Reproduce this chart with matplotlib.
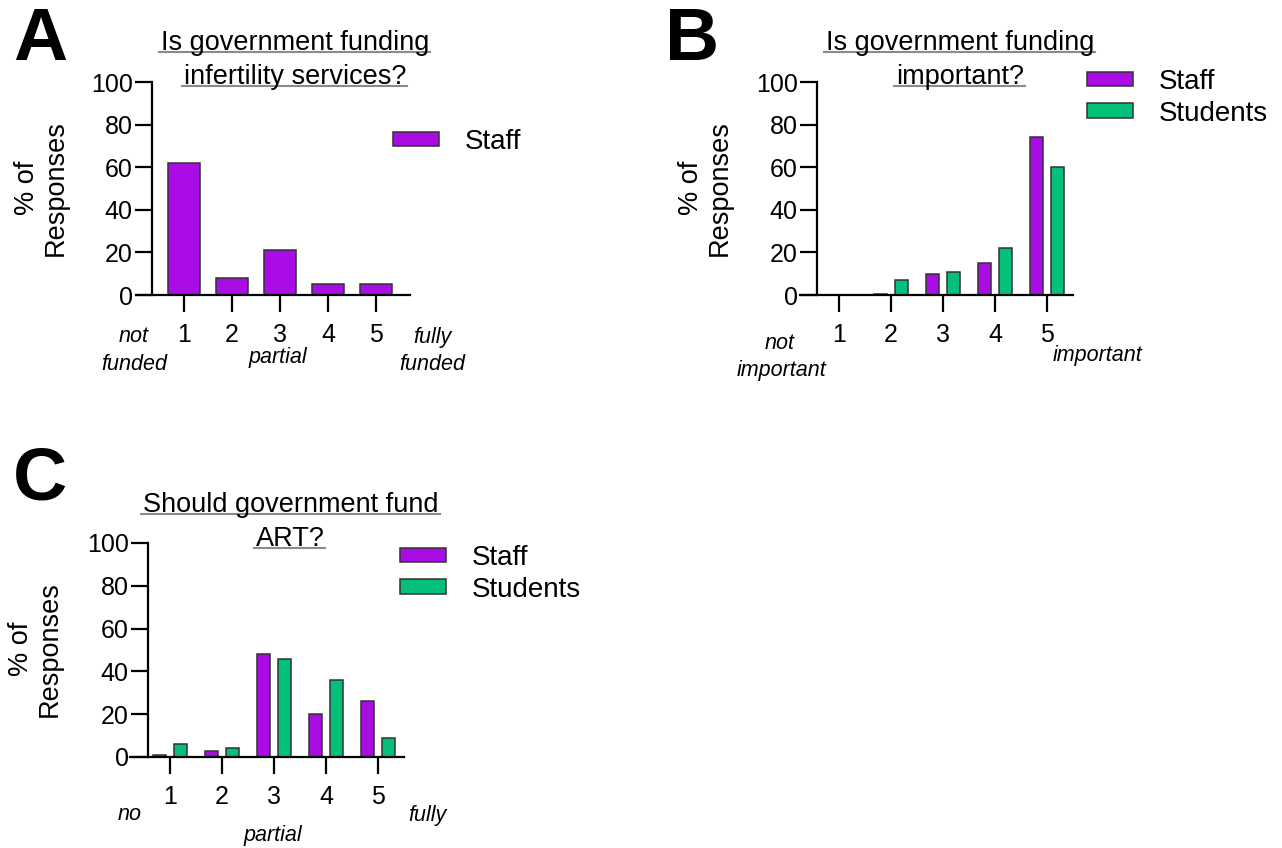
import numpy as np
import matplotlib
matplotlib.use("Agg")
from matplotlib import pyplot as plt
from matplotlib.lines import Line2D

plt.rcParams['font.family'] = ['Liberation Sans', 'DejaVu Sans']

# ---- data ----
categories = [1, 2, 3, 4, 5]
a_staff = [62, 8, 21, 5, 5]
b_staff = [0, 0.7, 10, 15, 74]
b_students = [0, 7, 11, 22, 60]
c_staff = [0.8, 3, 48, 20, 26]
c_students = [6, 4, 46, 36, 9]

PURPLE = '#a90ce4'
GREEN = '#03c07a'
EDGE = '#333333'

W, H = 1282, 848
fig = plt.figure(figsize=(W / 100, H / 100), dpi=100)


def fx(x):
    return x / W


def fy(y):
    return 1 - y / H


def make_axes(x0, x1, ytop, ybot, xlim, spine_x):
    ax = fig.add_axes([fx(x0), fy(ybot), (x1 - x0) / W, (ybot - ytop) / H])
    ax.set_xlim(*xlim)
    ax.set_ylim(0, 100)
    ax.spines['top'].set_visible(False)
    ax.spines['right'].set_visible(False)
    ax.spines['left'].set_position(('data', spine_x))
    for s in ('left', 'bottom'):
        ax.spines[s].set_linewidth(1.6)
    ax.set_yticks([0, 20, 40, 60, 80, 100])
    ax.set_xticks(categories)
    ax.tick_params(axis='y', length=12, width=1.6, pad=2, labelsize=18)
    ax.tick_params(axis='x', length=12, width=1.6, pad=8, labelsize=18)
    ax.patch.set_visible(False)
    return ax


def legend(ax, x, y):
    ax.legend(loc='upper left', bbox_to_anchor=(fx(x), fy(y)),
              bbox_transform=fig.transFigure, frameon=False, fontsize=20,
              handlelength=1.65, handleheight=0.42, handletextpad=0.95,
              borderpad=0, borderaxespad=0, labelspacing=0.2)


def ylabel(x, y):
    fig.text(fx(x), fy(y), '% of\nResponses', rotation=90, ha='center',
             va='center', fontsize=19.5, linespacing=1.15)


def italic(x, y, s):
    fig.text(fx(x), fy(y), s, ha='center', va='center', fontsize=15.5,
             style='italic')


titles = []


def title(x, y, s):
    t = fig.text(fx(x), fy(y), s, ha='center', va='baseline', fontsize=19.5)
    titles.append(t)


def letter(x, y, s):
    fig.text(fx(x), fy(y), s, ha='center', va='center', fontsize=54,
             fontweight='bold')


x = np.array(categories, dtype=float)

# ---- panel A ----
axA = make_axes(136, 410, 82, 295, (0, 5 + 34 / 48), 1 - 32 / 48)
axA.bar(x, a_staff, width=0.67, color=PURPLE, edgecolor=EDGE, linewidth=1.1,
        label='Staff')
legend(axA, 393, 129)
ylabel(41, 188)
italic(134, 337, 'not')
italic(134, 365, 'funded')
italic(278, 358, 'partial')
italic(432, 337, 'fully')
italic(432, 365, 'funded')
title(295, 50, 'Is government funding')
title(295, 84, 'infertility services?')
letter(40, 41, 'A')

# ---- panel B ----
off, bw = 0.2, 0.25
axB = make_axes(800, 1073, 82, 295, (1 - 39 / 52, 5 + 26 / 52), 1 - 22 / 52)
axB.bar(x - off, b_staff, width=bw, color=PURPLE, edgecolor=EDGE,
        linewidth=1.1, label='Staff')
axB.bar(x + off, b_students, width=bw, color=GREEN, edgecolor=EDGE,
        linewidth=1.1, label='Students')
legend(axB, 1087, 69)
ylabel(705, 188)
italic(780, 343, 'not')
italic(782, 370, 'important')
italic(1098, 355, 'important')
title(960, 50, 'Is government funding')
title(960, 84, 'important?')
letter(692, 41, 'B')

# ---- panel C ----
axC = make_axes(130, 404, 543, 757, (1 - 40 / 52, 5 + 26 / 52), 1 - 22 / 52)
axC.bar(x - off, c_staff, width=bw, color=PURPLE, edgecolor=EDGE,
        linewidth=1.1, label='Staff')
axC.bar(x + off, c_students, width=bw, color=GREEN, edgecolor=EDGE,
        linewidth=1.1, label='Students')
legend(axC, 400, 545)
ylabel(35, 649)
italic(130, 815, 'no')
italic(273, 835, 'partial')
italic(427, 815, 'fully')
title(291, 512, 'Should government fund')
title(290, 546, 'ART?')
letter(40, 480, 'C')

# underline the titles
fig.canvas.draw()
r = fig.canvas.get_renderer()
for t in titles:
    bb = t.get_window_extent(r)
    base_y = t.get_position()[1]
    yb = base_y - 2.0 / H
    fig.add_artist(Line2D([bb.x0 / W - 2 / W, bb.x1 / W + 1 / W], [yb, yb],
                          transform=fig.transFigure, color='#8a8a8a', lw=1.5))

fig.savefig('out.png', dpi=100)
